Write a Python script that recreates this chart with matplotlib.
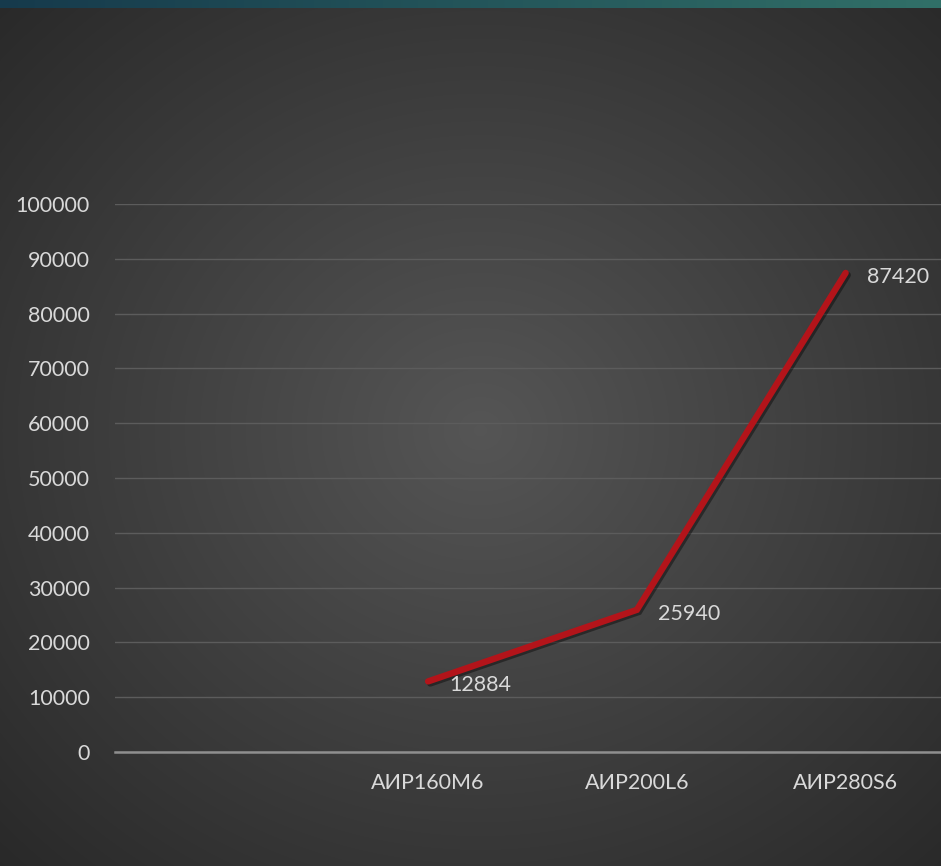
import matplotlib.pyplot as plt
import matplotlib.patheffects as pe
import numpy as np

plt.rcParams['font.family'] = ['Lato', 'DejaVu Sans']

categories = ['', 'АИР160М6', 'АИР200L6', 'АИР280S6']
values = [None, 12884, 25940, 87420]
yticks = list(range(0, 100001, 10000))

W, H = 941, 866
fig = plt.figure(figsize=(W / 100, H / 100), dpi=100)

# dark slide background with a soft radial light in the middle
bg = fig.add_axes([0, 0, 1, 1], zorder=-10)
yy, xx = np.mgrid[0:H, 0:W]
r = np.sqrt(((xx - 480) / 640) ** 2 + ((yy - 430) / 580) ** 2)
shade = np.clip(0.335 - 0.165 * r, 0.15, 0.335)
img = np.dstack([shade, shade, shade])
bg.imshow(img, aspect='auto', extent=[0, W, H, 0])
# teal strip across the top
strip = np.linspace(0, 1, W)
c0 = np.array([0x16, 0x3a, 0x4c]) / 255
c1 = np.array([0x31, 0x70, 0x68]) / 255
band = (c0[None, :] * (1 - strip[:, None]) + c1[None, :] * strip[:, None])[None, :, :]
bg.imshow(np.repeat(band, 8, axis=0), aspect='auto', extent=[0, W, 8, 0])
bg.set_xlim(0, W)
bg.set_ylim(H, 0)
bg.axis('off')

left, right = 115 / W, 950 / W
bottom, top = 1 - 752 / H, 1 - 204 / H
ax = fig.add_axes([left, bottom, right - left, top - bottom])
ax.patch.set_alpha(0)

x = np.arange(len(categories))
pts = [(i, v) for i, v in zip(x, values) if v is not None]
px = [p[0] for p in pts]
py = [p[1] for p in pts]
ax.plot(px, py, color='#b3141a', lw=4.6, solid_capstyle='round', solid_joinstyle='miter',
        zorder=3,
        path_effects=[pe.SimpleLineShadow(offset=(1.5, -1.5), shadow_color='black', alpha=0.4),
                      pe.Normal()])

for i, v in pts:
    ax.annotate(str(v), (i, v), xytext=(21, -4), textcoords='offset pixels',
                ha='left', va='center', color='#d9d9d9', fontsize=15.5)

ax.set_xlim(-0.5, len(categories) - 0.5)
ax.set_ylim(0, 100000)
ax.set_xticks(x)
ax.set_xticklabels(categories)
ax.set_yticks(yticks)
ax.set_yticklabels([str(t) for t in yticks])
ax.tick_params(length=0, colors='#d9d9d9', labelsize=15.5)
ax.tick_params(axis='y', pad=18)
ax.tick_params(axis='x', pad=15)
ax.grid(axis='y', color='#5c5c5c', lw=1)
ax.set_axisbelow(True)
for s in ['top', 'right', 'left']:
    ax.spines[s].set_visible(False)
ax.spines['bottom'].set_color('#8f8f8f')
ax.spines['bottom'].set_linewidth(1.8)

fig.savefig('out.png', dpi=100)
